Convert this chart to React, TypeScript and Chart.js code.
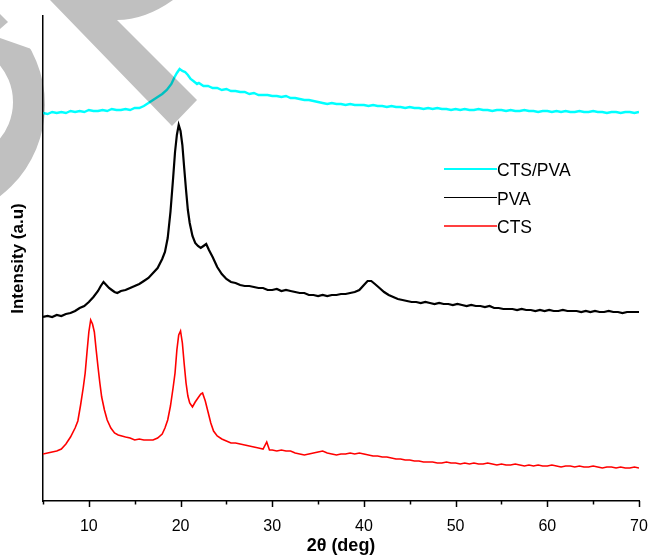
import React, { useEffect, useRef } from 'react';
import { Chart, registerables } from 'chart.js';

Chart.register(...registerables);

// ---- Data (2θ in degrees, intensity in arbitrary units) ----
const seriesLabels = ['CTS/PVA', 'PVA', 'CTS'];
const seriesColors = ['#00FFFF', '#000000', '#FF0000'];
const xMajorTicks = [10, 20, 30, 40, 50, 60, 70];
const xMinorTicks = [5, 15, 25, 35, 45, 55, 65];
const xTitle = '2θ (deg)';
const yTitle = 'Intensity (a.u)';

const ctsPvaData: [number, number][] = [
  [5, 387], [5.5, 386], [6, 388], [6.5, 387], [7, 388], [7.5, 387], [8, 389], [8.5, 388], [9, 389], [9.5, 388],
  [10, 390], [10.5, 389], [11, 389], [11.5, 390], [12, 389], [12.5, 391], [13, 390], [13.5, 390], [14, 391], [14.5, 390],
  [15, 392], [15.5, 392], [16, 394], [16.5, 397], [17, 400], [17.5, 403], [18, 406], [18.5, 410], [19, 416], [19.3, 422],
  [19.6, 427], [19.9, 431], [20.2, 429], [20.5, 428], [20.8, 425], [21.1, 421], [21.4, 419], [21.8, 416], [22, 417], [22.5, 414],
  [23, 414], [23.5, 412], [24, 412], [24.5, 410], [25, 411], [25.5, 409], [26, 409], [26.5, 408], [27, 408], [27.5, 406],
  [28, 407], [28.5, 405], [29, 405], [29.5, 405], [30, 404], [30.5, 404], [31, 403], [31.5, 404], [32, 402], [32.5, 402],
  [33, 401], [33.5, 400], [34, 400], [34.5, 399], [35, 398], [35.5, 397], [36, 396], [36.5, 397], [37, 396], [37.5, 396],
  [38, 395], [38.5, 396], [39, 395], [39.5, 395], [40, 395], [40.5, 394], [41, 395], [41.5, 394], [42, 394], [42.5, 393],
  [43, 394], [43.5, 393], [44, 393], [44.5, 392], [45, 393], [45.5, 392], [46, 392], [46.5, 391], [47, 392], [47.5, 391],
  [48, 392], [48.5, 391], [49, 391], [49.5, 390], [50, 391], [50.5, 390], [51, 391], [51.5, 390], [52, 390], [52.5, 391],
  [53, 390], [53.5, 390], [54, 389], [54.5, 390], [55, 390], [55.5, 389], [56, 390], [56.5, 389], [57, 389], [57.5, 390],
  [58, 389], [58.5, 389], [59, 388], [59.5, 389], [60, 389], [60.5, 388], [61, 389], [61.5, 388], [62, 389], [62.5, 388],
  [63, 388], [63.5, 389], [64, 388], [64.5, 388], [65, 389], [65.5, 388], [66, 388], [66.5, 387], [67, 388], [67.5, 388],
  [68, 387], [68.5, 388], [69, 388], [69.5, 387], [70, 388],
];

const pvaData: [number, number][] = [
  [5, 183], [5.5, 184], [6, 183], [6.5, 185], [7, 184], [7.5, 186], [8, 187], [8.5, 189], [9, 192], [9.5, 194],
  [10, 198], [10.5, 203], [11, 209], [11.3, 214], [11.6, 218], [11.9, 215], [12.2, 212], [12.5, 210], [12.8, 208], [13.1, 207],
  [13.5, 209], [14, 210], [14.5, 212], [15, 214], [15.5, 216], [16, 219], [16.5, 222], [17, 227], [17.5, 232], [18, 241],
  [18.3, 248], [18.6, 262], [18.9, 288], [19.2, 323], [19.4, 348], [19.6, 365], [19.8, 375], [20, 369], [20.2, 355], [20.4, 332],
  [20.6, 310], [20.8, 290], [21, 277], [21.3, 264], [21.6, 257], [21.9, 254], [22.2, 252], [22.5, 254], [22.8, 256], [23.1, 250],
  [23.5, 243], [24, 233], [24.5, 226], [25, 221], [25.5, 218], [26, 217], [26.5, 215], [27, 214], [27.5, 214], [28, 213],
  [28.5, 212], [29, 212], [29.5, 210], [30, 210], [30.5, 211], [31, 209], [31.5, 210], [32, 209], [32.5, 208], [33, 207],
  [33.5, 207], [34, 205], [34.5, 205], [35, 204], [35.5, 205], [36, 204], [36.5, 205], [37, 205], [37.5, 206], [38, 206],
  [38.5, 207], [39, 208], [39.5, 210], [40, 215], [40.4, 219], [40.8, 219], [41.2, 216], [41.7, 212], [42.2, 208], [42.7, 205],
  [43.2, 203], [43.7, 201], [44.2, 200], [44.7, 199], [45.2, 198], [45.7, 198], [46.2, 197], [46.7, 198], [47.2, 197], [47.7, 196],
  [48.2, 197], [48.7, 196], [49.2, 196], [49.7, 195], [50.2, 196], [50.7, 195], [51.2, 194], [51.7, 195], [52.2, 194], [52.7, 194],
  [53.2, 193], [53.7, 194], [54.2, 192], [54.7, 192], [55.2, 191], [55.7, 191], [56.2, 191], [56.7, 190], [57.2, 191], [57.7, 190],
  [58.2, 190], [58.7, 189], [59.2, 190], [59.7, 189], [60.2, 190], [60.7, 189], [61.2, 189], [61.7, 190], [62.2, 189], [62.7, 189],
  [63.2, 189], [63.7, 188], [64.2, 189], [64.7, 188], [65.2, 189], [65.7, 188], [66.2, 188], [66.7, 189], [67.2, 188], [67.7, 188],
  [68.2, 187], [68.7, 188], [69.2, 188], [69.7, 188], [70, 188],
];

const ctsData: [number, number][] = [
  [5, 46], [5.5, 47], [6, 48], [6.5, 49], [7, 51], [7.5, 56], [8, 63], [8.5, 72], [8.8, 79], [9.1, 95],
  [9.4, 113], [9.6, 127], [9.8, 148], [10, 168], [10.2, 180], [10.4, 176], [10.6, 168], [10.8, 150], [11, 133], [11.2, 117],
  [11.4, 103], [11.7, 90], [12, 80], [12.4, 72], [12.8, 67], [13.2, 65], [13.6, 64], [14, 63], [14.5, 62], [15, 60],
  [15.5, 61], [16, 60], [16.5, 60], [17, 60], [17.5, 62], [18, 66], [18.3, 72], [18.6, 80], [18.9, 94], [19.2, 113],
  [19.4, 127], [19.6, 150], [19.8, 165], [20, 169], [20.2, 157], [20.4, 136], [20.6, 117], [20.8, 104], [21, 97], [21.3, 93],
  [21.6, 98], [21.9, 102], [22.2, 106], [22.4, 107], [22.7, 99], [23, 88], [23.3, 77], [23.6, 69], [24, 64], [24.5, 61],
  [25, 59], [25.5, 57], [26, 57], [26.5, 56], [27, 55], [27.5, 54], [28, 53], [28.5, 52], [29, 51], [29.4, 58],
  [29.7, 50], [30, 50], [30.5, 49], [31, 50], [31.5, 49], [32, 49], [32.5, 47], [33, 46], [33.5, 45], [34, 46],
  [34.5, 47], [35, 48], [35.5, 49], [36, 47], [36.5, 46], [37, 45], [37.5, 46], [38, 46], [38.5, 47], [39, 46],
  [39.5, 47], [40, 46], [40.5, 45], [41, 44], [41.5, 44], [42, 43], [42.5, 43], [43, 42], [43.5, 41], [44, 41],
  [44.5, 40], [45, 40], [45.5, 39], [46, 39], [46.5, 38], [47, 38], [47.5, 38], [48, 37], [48.5, 37], [49, 38],
  [49.5, 37], [50, 37], [50.5, 36], [51, 37], [51.5, 36], [52, 37], [52.5, 36], [53, 36], [53.5, 37], [54, 36],
  [54.5, 35], [55, 36], [55.5, 35], [56, 35], [56.5, 36], [57, 35], [57.5, 34], [58, 35], [58.5, 34], [59, 35],
  [59.5, 34], [60, 34], [60.5, 35], [61, 34], [61.5, 33], [62, 34], [62.5, 34], [63, 33], [63.5, 34], [64, 33],
  [64.5, 33], [65, 34], [65.5, 33], [66, 32], [66.5, 33], [67, 33], [67.5, 32], [68, 33], [68.5, 32], [69, 32],
  [69.5, 33], [70, 32],
];

const FONT = '"Liberation Sans", Arial, Helvetica, sans-serif';

const toPoints = (d: [number, number][]) => d.map(([x, y]) => ({ x, y }));

const tickMarksPlugin = {
  id: 'tickMarks',
  afterDraw(chart: any) {
    const { ctx, chartArea, scales } = chart;
    const xs = scales.x;
    ctx.save();
    ctx.strokeStyle = '#000';
    ctx.lineWidth = 1.5;
    const draw = (v: number, len: number) => {
      const px = Math.round(xs.getPixelForValue(v)) + 0.5;
      ctx.beginPath();
      ctx.moveTo(px, chartArea.bottom);
      ctx.lineTo(px, chartArea.bottom + len);
      ctx.stroke();
    };
    xMajorTicks.forEach((v) => draw(v, 6));
    xMinorTicks.forEach((v) => draw(v, 3.5));
    ctx.restore();
  },
};

const legendPlugin = {
  id: 'customLegend',
  afterDraw(chart: any) {
    const { ctx } = chart;
    const widths = [2.2, 1.1, 1.4];
    ctx.save();
    ctx.font = `17.5px ${FONT}`;
    ctx.textBaseline = 'middle';
    ctx.textAlign = 'left';
    chart.data.datasets.forEach((ds: any, i: number) => {
      const y = 169 + i * 28.5;
      ctx.strokeStyle = ds.borderColor;
      ctx.lineWidth = widths[i];
      ctx.beginPath();
      ctx.moveTo(444, y);
      ctx.lineTo(497, y);
      ctx.stroke();
      ctx.fillStyle = '#000';
      ctx.fillText(ds.label, 497, y + 2.5);
    });
    ctx.restore();
  },
};

const watermarkPlugin = {
  id: 'watermark',
  afterDraw(chart: any) {
    const { ctx } = chart;
    ctx.save();
    ctx.globalCompositeOperation = 'multiply';
    ctx.fillStyle = '#c0c0c0';
    // diagonal bar with bowl
    ctx.beginPath();
    ctx.moveTo(50, 0);
    ctx.lineTo(173, 0);
    ctx.quadraticCurveTo(145, 20, 117, 20);
    ctx.lineTo(197, 100);
    ctx.lineTo(172, 126);
    ctx.closePath();
    ctx.fill();
    // ring segment on the left
    ctx.beginPath();
    ctx.moveTo(0, 38);
    ctx.lineTo(40, 52);
    ctx.lineTo(80, 300);
    ctx.lineTo(0, 300);
    ctx.closePath();
    ctx.clip();
    ctx.beginPath();
    ctx.arc(-70, 105, 115, 0, Math.PI * 2);
    ctx.arc(-45, 102, 58, 0, Math.PI * 2, true);
    ctx.fill('evenodd');
    ctx.restore();
    ctx.save();
    ctx.globalCompositeOperation = 'multiply';
    ctx.fillStyle = '#c0c0c0';
    ctx.beginPath();
    ctx.moveTo(0, 14);
    ctx.lineTo(8, 22);
    ctx.lineTo(0, 29);
    ctx.closePath();
    ctx.fill();
    ctx.restore();
  },
};

export default function App() {
  const canvasRef = useRef<HTMLCanvasElement | null>(null);

  useEffect(() => {
    const canvas = canvasRef.current;
    if (!canvas) return;
    const allData = [ctsPvaData, pvaData, ctsData];
    const widths = [2.4, 2.2, 1.6];
    const chart = new Chart(canvas, {
      type: 'line',
      data: {
        datasets: allData.map((d, i) => ({
          label: seriesLabels[i],
          data: toPoints(d),
          borderColor: seriesColors[i],
          backgroundColor: seriesColors[i],
          borderWidth: widths[i],
          pointRadius: 0,
          tension: 0,
          fill: false,
        })),
      },
      options: {
        responsive: false,
        animation: false,
        devicePixelRatio: 1,
        layout: { padding: { top: 16, right: 11, left: 0, bottom: 0 } },
        plugins: {
          legend: { display: false },
          tooltip: { enabled: false },
        },
        scales: {
          x: {
            type: 'linear',
            min: 5,
            max: 70,
            afterBuildTicks: (scale: any) => {
              scale.ticks = xMajorTicks.map((v) => ({ value: v }));
            },
            afterFit: (scale: any) => {
              scale.height = 55;
              scale.paddingLeft = 0;
              scale.paddingRight = 0;
            },
            grid: { display: false, drawTicks: false, tickLength: 0 },
            border: { display: true, color: '#000', width: 1.5 },
            ticks: {
              color: '#000',
              font: { family: FONT, size: 16 },
              padding: 15.5,
              maxRotation: 0,
              autoSkip: false,
            },
            title: {
              display: true,
              text: xTitle,
              color: '#000',
              font: { family: FONT, size: 18, weight: 'bold' },
              padding: { top: 0, bottom: -1 },
            },
          },
          y: {
            type: 'linear',
            min: -1,
            max: 484,
            afterFit: (scale: any) => {
              scale.width = 43;
              scale.paddingTop = 0;
              scale.paddingBottom = 0;
            },
            grid: { display: false, drawTicks: false },
            border: { display: true, color: '#000', width: 1.5 },
            ticks: { display: false },
            title: {
              display: true,
              text: yTitle,
              color: '#000',
              font: { family: FONT, size: 17, weight: 'bold' },
              padding: { top: 7.8, bottom: 0 },
            },
          },
        },
      },
      plugins: [tickMarksPlugin, legendPlugin, watermarkPlugin],
    } as any);
    return () => chart.destroy();
  }, []);

  return (
    <div style={{ position: 'absolute', left: 0, top: 0, width: 650, height: 556, background: '#fff' }}>
      <canvas ref={canvasRef} width={650} height={556} style={{ width: 650, height: 556, display: 'block' }} />
    </div>
  );
}
